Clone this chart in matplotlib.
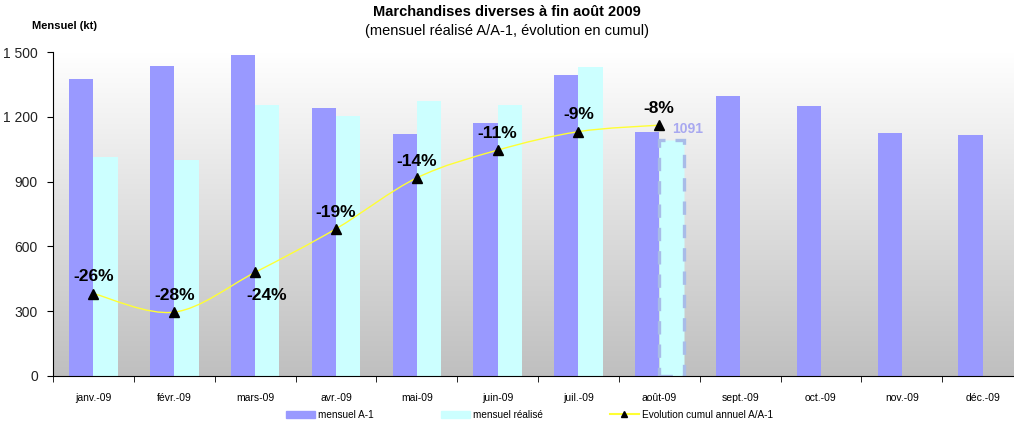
import matplotlib
matplotlib.use("Agg")
import matplotlib.pyplot as plt
import numpy as np
from matplotlib.lines import Line2D
from matplotlib.patches import Patch, PathPatch
from matplotlib.path import Path

plt.rcParams['font.family'] = ['Liberation Sans', 'DejaVu Sans']

months = ["janv.-09", "févr.-09", "mars-09", "avr.-09", "mai-09", "juin-09",
          "juil.-09", "août-09", "sept.-09", "oct.-09", "nov.-09", "déc.-09"]
mensuel_a1 = [1375, 1435, 1486, 1241, 1120, 1171, 1394, 1130, 1296, 1250, 1125, 1116]
mensuel_realise = [1014, 1000, 1255, 1204, 1273, 1255, 1431, 1091]
evolution_pct = [-26.1, -28.1, -23.8, -19.1, -13.6, -10.6, -8.6, -7.9]
yticks = [0, 300, 600, 900, 1200, 1500]

C_A1 = "#9999FF"
C_REAL = "#CCFFFF"
C_LINE = "#FFFF33"

fig = plt.figure(figsize=(10.14, 4.25), dpi=100)
ax = fig.add_axes([0.0523, 0.1153, 0.9566, 0.7623])

# gradient background
grad = np.linspace(1.0, 0.75, 256).reshape(-1, 1)
ax.imshow(np.dstack([grad, grad, grad]), extent=[0, 1, 0, 1], transform=ax.transAxes,
          aspect="auto", zorder=0)

x = np.arange(len(months))
w = 0.3
ax.bar(x - w / 2, mensuel_a1, width=w, color=C_A1, zorder=2)
n = len(mensuel_realise)
ax.bar(x[:n - 1] + w / 2, mensuel_realise[:n - 1], width=w, color=C_REAL, zorder=2)
# last (estimated) month with dashed outline
ax.bar(x[n - 1] + w / 2, mensuel_realise[n - 1], width=w, color=C_REAL,
       edgecolor="#A8BCE8", linestyle=(0, (4, 3)), linewidth=2.4, zorder=2)
ax.text(x[n - 1] + 0.16, mensuel_realise[n - 1] + 52, str(mensuel_realise[n - 1]),
        color="#A8A8F0", fontsize=10, fontweight="bold", va="center", ha="left", zorder=5)

ax.set_xlim(-0.5, len(months) - 0.5)
ax.set_ylim(0, 1500)
ax.set_yticks(yticks)
ax.set_yticklabels([f"{v:,}".replace(",", " ") for v in yticks], fontsize=10, color="#222222")
ax.set_xticks(x)
ax.set_xticklabels(months, fontsize=7.5)
ax.set_xticks(np.arange(-0.5, len(months), 1), minor=True)
ax.tick_params(axis="x", which="major", length=0, pad=12)
ax.tick_params(axis="x", which="minor", length=4, direction="out")
ax.tick_params(axis="y", length=4, direction="out", pad=7)
for s in ["top", "right"]:
    ax.spines[s].set_visible(False)
ax.spines["left"].set_color("black")
ax.spines["bottom"].set_color("black")

# secondary axis for cumulative evolution
ax2 = ax.twinx()
ax2.set_ylim(-35, 0)
ax2.axis("off")
xe = np.asarray(x[:len(evolution_pct)], dtype=float)
ye = np.asarray(evolution_pct, dtype=float)
# smoothed line (Catmull-Rom style bezier through the data points)
P = np.column_stack([xe, ye])
verts = [P[0]]
codes = [Path.MOVETO]
for i in range(len(P) - 1):
    p0 = P[i - 1] if i > 0 else P[i]
    p1, p2 = P[i], P[i + 1]
    p3 = P[i + 2] if i + 2 < len(P) else P[i + 1]
    c1 = p1 + (p2 - p0) / 6
    c2 = p2 - (p3 - p1) / 6
    verts += [c1, c2, p2]
    codes += [Path.CURVE4] * 3
ax2.add_patch(PathPatch(Path(verts, codes), facecolor="none", edgecolor=C_LINE,
                        linewidth=1, zorder=4))
ax2.plot(xe, ye, linestyle="none", marker="^", markersize=6.5,
         markerfacecolor="black", markeredgecolor="black", zorder=5)
for i, (xi, v) in enumerate(zip(xe, ye)):
    if i == 2:
        off = (8, -17)
    else:
        off = (0, 12)
    ax2.annotate(f"{round(v):d}%", (xi, v), xytext=off, textcoords="offset points",
                 ha="center", va="center", fontsize=12.5, fontweight="bold")

fig.text(0.5, 0.972, "Marchandises diverses à fin août 2009", ha="center", va="center",
         fontsize=10.5, fontweight="bold")
fig.text(0.5, 0.927, "(mensuel réalisé A/A-1, évolution en cumul)", ha="center", va="center",
         fontsize=10.5)
fig.text(0.032, 0.938, "Mensuel (kt)", ha="left", va="center", fontsize=8, fontweight="bold")

handles = [Patch(color=C_A1), Patch(color=C_REAL),
           Line2D([0], [0], color=C_LINE, marker="^", markerfacecolor="black",
                  markeredgecolor="black", markersize=5)]
labels = ["mensuel A-1", "mensuel réalisé", "Evolution cumul annuel A/A-1"]
fig.legend(handles, labels, loc="center left", bbox_to_anchor=(286 / 1014, 0.024), ncol=3,
           frameon=False, fontsize=7.2, columnspacing=6.7, handlelength=2.9,
           handleheight=0.75, handletextpad=0.3, borderaxespad=0, borderpad=0)

fig.savefig("out.png", dpi=100)
